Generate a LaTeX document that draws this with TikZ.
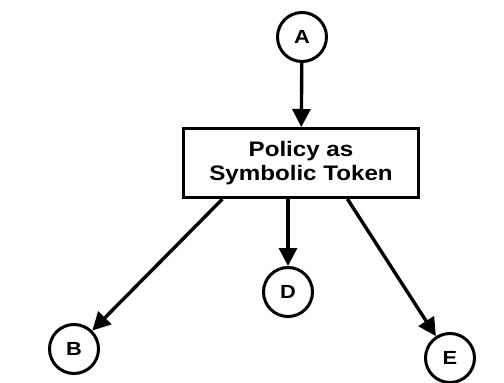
\documentclass[tikz,border=0pt]{standalone}
\usepackage{fontspec}
\setmainfont[FakeStretch=1.15]{Liberation Sans}
\usetikzlibrary{arrows.meta}
\usetikzlibrary{calc}

\tikzset{
	tok/.style={circle,draw,line width=3pt,minimum size=49pt,inner sep=0pt,font=\bfseries\fontsize{19}{19}\selectfont},
	policybox/.style={rectangle,draw,line width=3pt,minimum width=235pt,minimum height=69pt,align=center,font=\bfseries\fontsize{21}{24}\selectfont},
	arr/.style={line width=3.4pt,-{Triangle[length=18pt,width=18pt]}}
}

\begin{document}
\begin{tikzpicture}[x=1pt,y=-1pt]
			\useasboundingbox (0,0) rectangle (504,383);
			%top token and the policy box
			\node[tok] (A) at (302,37) {A};
			\node[policybox] (policy) at (301,163) {Policy as\\Symbolic Token};
			%bottom tokens
			\node[tok] (B) at (74,349) {B};
			\node[tok] (D) at (288,292) {D};
			\node[tok] (E) at (450,358) {E};
			%connectors
			\coordinate (outB) at ($(policy.south west)!0.17!(policy.south east)$);
			\coordinate (outE) at ($(policy.south west)!0.695!(policy.south east)$);
			\draw[arr] (A) -- (policy);
			\draw[arr] (outB) -- (B);
			\draw[arr] (policy.south -| D) -- (D);
			\draw[arr] (outE) -- (E);
		\end{tikzpicture}
\end{document}
